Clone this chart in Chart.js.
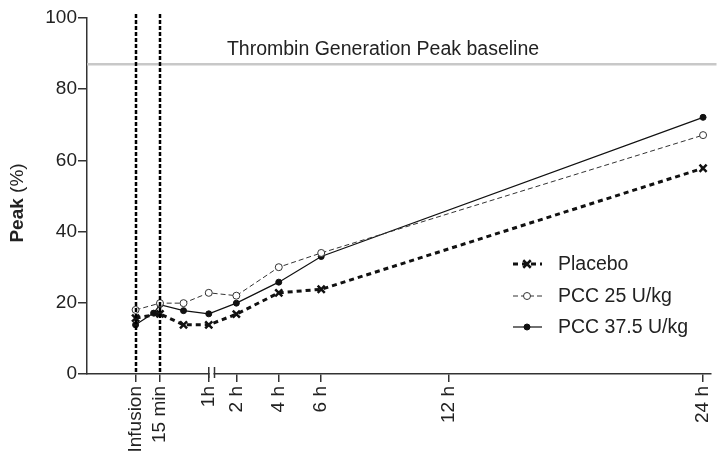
<!DOCTYPE html>
<html>
<head>
<meta charset="utf-8">
<script src="https://cdn.jsdelivr.net/npm/chart.js@4"></script>
<style>
  body { margin: 0; background: #fff; }
  canvas { display: block; }
</style>
</head>
<body>
<canvas id="peakChart" width="718" height="455"></canvas>
<script>
// x positions are on a broken time axis (hours after 2 h, compressed before 1 h)
const xTickPos = [-2.75, -1.6, 0.7, 2, 4, 6, 12, 24];
const xTickLabels = ['Infusion', '15 min', '1h', '2 h', '4 h', '6 h', '12 h', '24 h'];

const timePos = [-2.75, -1.6, -0.49, 0.7, 2, 4, 6, 24];
const placebo = [15.7, 16.9, 13.8, 13.8, 16.8, 22.8, 23.8, 57.8];
const pcc25 = [18.0, 19.9, 19.9, 22.8, 22.0, 30.0, 34.0, 67.1];

const pcc375Pos = [-2.75, -1.9, -1.6, -0.49, 0.7, 2, 4, 6, 24];
const pcc375 = [13.8, 17.1, 19.5, 17.8, 16.9, 19.9, 25.8, 33.0, 72.1];

const baselineValue = 87;
const baselineLabel = 'Thrombin Generation Peak baseline';
const markerLines = [-2.75, -1.6]; // infusion and 15 min
const axisBreak = [0.7, 0.97];

const FONT = "'Liberation Sans', Arial, sans-serif";
const TXT = '#222';
const AXIS = '#333';

function toPoints(xs, ys) {
    return xs.map((x, i) => ({ x: x, y: ys[i] }));
}

// extra drawing: baseline, vertical dashed lines, axis break, y title, legend
const extras = {
    id: 'extras',
    beforeDatasetsDraw(chart) {
        const ctx = chart.ctx;
        const a = chart.chartArea;
        const ys = chart.scales.y;
        ctx.save();
        // baseline
        const by = ys.getPixelForValue(baselineValue);
        ctx.strokeStyle = '#c8c8c8';
        ctx.lineWidth = 2.5;
        ctx.beginPath();
        ctx.moveTo(a.left, by);
        ctx.lineTo(a.right + 6, by);
        ctx.stroke();
        ctx.fillStyle = TXT;
        ctx.font = '19.5px ' + FONT;
        ctx.textAlign = 'center';
        ctx.textBaseline = 'alphabetic';
        ctx.fillText(baselineLabel, 383, by - 9);
        ctx.restore();
    },
    afterDatasetsDraw(chart) {
        const ctx = chart.ctx;
        const a = chart.chartArea;
        const xs = chart.scales.x;
        ctx.save();
        // dashed markers
        ctx.strokeStyle = '#000';
        ctx.lineWidth = 2.5;
        ctx.setLineDash([4, 2]);
        markerLines.forEach(v => {
            const px = Math.round(xs.getPixelForValue(v));
            ctx.beginPath();
            ctx.moveTo(px, a.top - 4);
            ctx.lineTo(px, a.bottom);
            ctx.stroke();
        });
        ctx.setLineDash([]);

        // axis break
        const b0 = xs.getPixelForValue(axisBreak[0]);
        const b1 = xs.getPixelForValue(axisBreak[1]);
        ctx.fillStyle = '#fff';
        ctx.fillRect(b0 + 1, a.bottom - 2, b1 - b0 - 2, 4);
        ctx.strokeStyle = AXIS;
        ctx.lineWidth = 1.5;
        [b0, b1].forEach(px => {
            ctx.beginPath();
            ctx.moveTo(px, a.bottom - 7);
            ctx.lineTo(px, a.bottom + 4);
            ctx.stroke();
        });

        // y title: bold "Peak" + normal "(%)"
        ctx.translate(18, 203);
        ctx.rotate(-Math.PI / 2);
        ctx.fillStyle = TXT;
        ctx.textBaseline = 'middle';
        ctx.textAlign = 'left';
        ctx.font = 'bold 19px ' + FONT;
        const w1 = ctx.measureText('Peak ').width;
        ctx.font = '19px ' + FONT;
        const w2 = ctx.measureText('(%)').width;
        const sx = -(w1 + w2) / 2;
        ctx.font = 'bold 19px ' + FONT;
        ctx.fillText('Peak ', sx, 0);
        ctx.font = '19px ' + FONT;
        ctx.fillText('(%)', sx + w1, 0);
        ctx.setTransform(1, 0, 0, 1, 0, 0);

        // legend
        const rows = [264, 296, 327];
        chart.data.datasets.forEach((ds, i) => {
            const y = rows[i];
            ctx.strokeStyle = ds.borderColor;
            ctx.lineWidth = ds.borderWidth;
            ctx.setLineDash(ds.borderDash || []);
            ctx.beginPath();
            ctx.moveTo(513, y);
            ctx.lineTo(542, y);
            ctx.stroke();
            ctx.setLineDash([]);
            ctx.fillStyle = ds.pointBackgroundColor;
            ctx.strokeStyle = ds.pointBorderColor;
            ctx.lineWidth = ds.pointBorderWidth;
            ctx.beginPath();
            if (ds.pointStyle === 'circle') {
                ctx.arc(527, y, ds.pointRadius, 0, Math.PI * 2);
                ctx.fill();
                ctx.stroke();
            } else {
                const r = ds.pointRadius * 0.75;
                ctx.moveTo(527 - r, y - r); ctx.lineTo(527 + r, y + r);
                ctx.moveTo(527 + r, y - r); ctx.lineTo(527 - r, y + r);
                ctx.stroke();
            }
            ctx.fillStyle = TXT;
            ctx.font = '19.5px ' + FONT;
            ctx.textAlign = 'left';
            ctx.textBaseline = 'middle';
            ctx.fillText(ds.label, 558, y + 1);
        });
        ctx.restore();
    }
};

new Chart(document.getElementById('peakChart'), {
    type: 'line',
    data: {
        datasets: [{
            label: 'Placebo',
            data: toPoints(timePos, placebo),
            borderColor: '#111',
            borderWidth: 3,
            borderDash: [5, 4],
            pointStyle: 'crossRot',
            pointRadius: 5,
            pointBorderWidth: 2.5,
            pointBorderColor: '#111',
            pointBackgroundColor: '#111',
            tension: 0
        }, {
            label: 'PCC 25 U/kg',
            data: toPoints(timePos, pcc25),
            borderColor: '#333',
            borderWidth: 1,
            borderDash: [5, 3],
            pointStyle: 'circle',
            pointRadius: 3.5,
            pointBorderWidth: 1,
            pointBorderColor: '#333',
            pointBackgroundColor: '#fff',
            tension: 0
        }, {
            label: 'PCC 37.5 U/kg',
            data: toPoints(pcc375Pos, pcc375),
            borderColor: '#111',
            borderWidth: 1.2,
            pointStyle: 'circle',
            pointRadius: 3,
            pointBorderWidth: 1,
            pointBorderColor: '#111',
            pointBackgroundColor: '#111',
            tension: 0
        }]
    },
    options: {
        responsive: false,
        animation: false,
        devicePixelRatio: 1,
        layout: { padding: { top: 18, right: 6, left: 0, bottom: 0 } },
        plugins: {
            legend: { display: false },
            tooltip: { enabled: false }
        },
        scales: {
            x: {
                type: 'linear',
                min: -5.04,
                max: 24.35,
                grid: { drawOnChartArea: false, drawTicks: true, tickLength: 8, color: AXIS, lineWidth: 1.5 },
                border: { color: AXIS, width: 1.5 },
                afterBuildTicks: s => { s.ticks = xTickPos.map(v => ({ value: v })); },
                afterFit: s => { s.height = 81; s.paddingLeft = 0; s.paddingRight = 0; },
                ticks: {
                    autoSkip: false,
                    maxRotation: 90,
                    minRotation: 90,
                    padding: 4,
                    color: TXT,
                    font: { family: FONT, size: 19 },
                    callback: v => xTickLabels[xTickPos.indexOf(v)]
                }
            },
            y: {
                min: 0,
                max: 100,
                grid: { drawOnChartArea: false, drawTicks: true, tickLength: 9, color: AXIS, lineWidth: 1.5 },
                border: { color: AXIS, width: 1.5 },
                afterFit: s => { s.width = 87; s.paddingTop = 0; s.paddingBottom = 0; },
                ticks: {
                    stepSize: 20,
                    padding: 1,
                    color: TXT,
                    font: { family: FONT, size: 19 }
                }
            }
        }
    },
    plugins: [extras]
});
</script>
</body>
</html>
